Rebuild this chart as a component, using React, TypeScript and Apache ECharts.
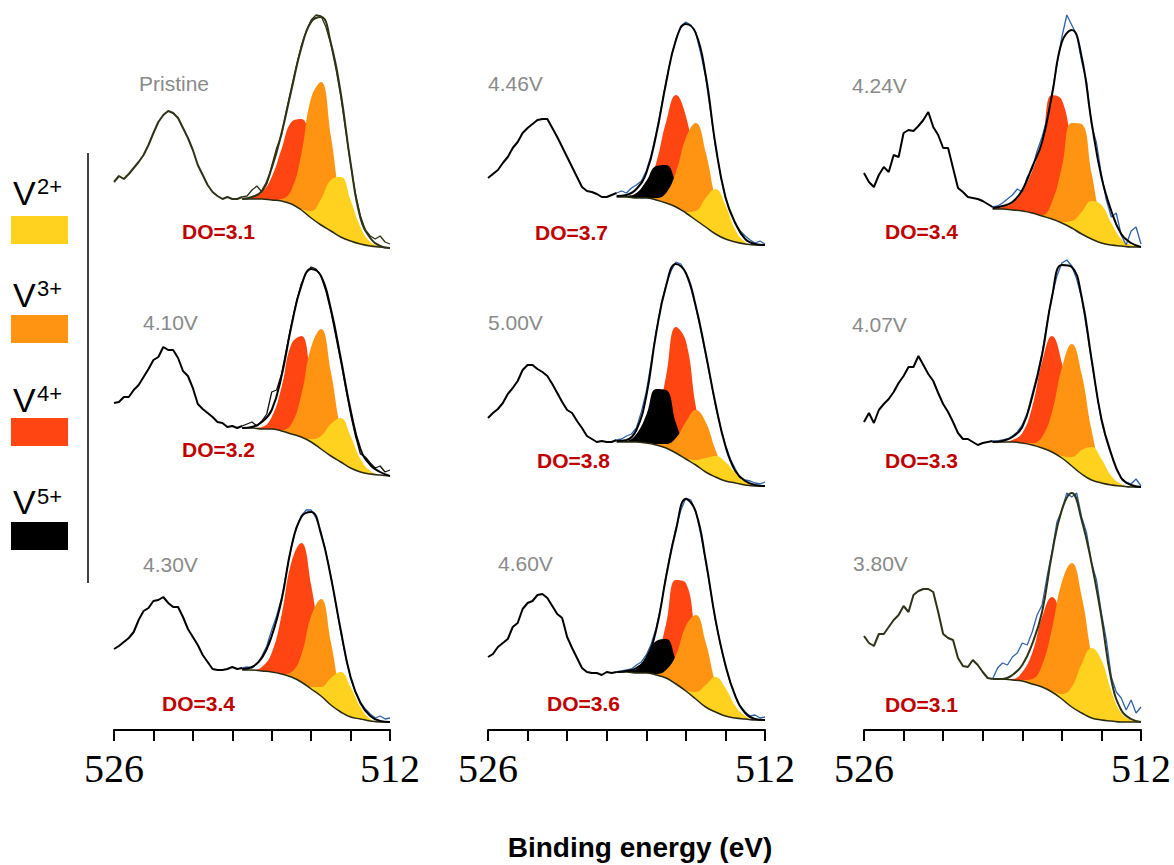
import React, { useEffect, useRef } from "react";
import * as echarts from "echarts";

// ---------- x grids (binding energy, eV) ----------
const RAW_EV = [526, 525.75, 525.5, 525.25, 525, 524.75, 524.5, 524.25, 524, 523.75, 523.5, 523.25, 523, 522.75, 522.5, 522.25, 522, 521.75, 521.5, 521.25, 521, 520.75, 520.5, 520.25, 520, 519.75, 519.5, 519.25, 519, 518.75, 518.5, 518.25, 518, 517.75, 517.5, 517.25, 517, 516.75, 516.5, 516.25, 516, 515.75, 515.5, 515.25, 515, 514.75, 514.5, 514.25, 514, 513.75, 513.5, 513.25, 513, 512.75, 512.5, 512.25, 512];
const FIT_EV = [519.5, 519, 518.5, 518, 517.5, 517, 516.5, 516, 515.5, 515, 514.5, 514, 513.5, 513, 512.5, 512];
const X_TICK_LABELS = [526, 512];

// ---------- raw spectra ----------
const RAW_PRISTINE = [66,72,69,74,80,86,93,103,115,126,133,137,135,130,120,110,98,83,73,63,56,52,49,51,49,49,51, 52,58,62,56,64,82,100,113,138,160,182,202,217,228,233,232,221,204,180,152,118,84,54,32,18,12,9,12,6,4];
const RAW_446 = [67,71,75,82,88,97,103,112,117,121,125,126,126,117,108,98,88,78,68,58,54,53,51,48,48,50,52, 54,52,57,60,64,74,90,112,137,164,187,206,219,223,220,212,192,168,133,98,70,47,32,21,14,9,5,2,4,1];
const RAW_424 = [74,65,60,72,80,75,92,90,114,117,116,121,127,135,120,112,99,99,79,59,55,50,49,48,46,43,40, 41,44,48,52,58,55,70,78,96,110,128,153,182,210,232,222,212,186,165,122,104,72,47,30,34,12,2,16,20,3];
const RAW_410 = [73,74,79,79,86,91,99,107,116,119,129,126,126,118,105,100,88,72,67,63,59,54,53,49,50,48,50, 52,54,50,55,62,84,86,102,127,152,174,192,203,209,207,200,185,165,140,115,88,62,40,22,19,13,8,10,4,6];
const RAW_500 = [68,73,77,83,92,98,105,116,121,121,117,114,110,102,93,84,76,73,65,58,50,47,44,45,44,44,46, 47,50,52,58,74,94,124,155,182,201,215,224,222,213,198,179,156,132,106,80,59,41,27,17,8,6,5,3,2,4];
const RAW_407 = [65,74,64,77,83,88,95,104,111,120,120,131,122,113,106,94,83,75,65,54,48,48,45,42,44,45,46, 46,47,48,51,55,62,74,93,112,134,164,191,211,224,227,221,208,189,158,126,95,66,47,32,19,9,5,3,8,1];
const RAW_430 = [73,76,80,84,90,102,111,114,121,122,125,119,115,115,105,93,85,77,67,60,53,52,52,53,55,53,54, 55,54,58,66,76,92,106,124,150,176,194,206,212,212,204,190,170,146,118,90,65,44,30,20,13,8,4,6,3,4];
const RAW_460 = [63,66,73,77,81,93,97,111,117,119,125,126,122,114,106,102,83,72,62,52,48,47,47,45,48,47,48, 49,50,51,55,58,65,76,92,115,145,170,192,210,222,220,209,186,159,129,99,75,54,37,24,14,8,4,5,2,3];
const RAW_380 = [86,79,76,88,88,95,102,107,116,110,127,131,133,133,130,110,88,84,82,64,56,55,62,57,50,44,43, 54,59,57,65,69,79,77,90,107,117,145,170,200,212,229,225,229,205,189,159,142,109,82,45,30,24,12,22,9,15];

// ---------- backgrounds ----------
const BG_PRISTINE = [49,49,49,48,47,44,38,30,23,17,11,7,4,2,1,0];
const BG_446 = [48,48,47,47,45,42,38,32,25,18,11,6,3,1,0,0];
const BG_424 = [38,38,37,36,34,31,28,24,19,13,8,4,2,1,0,0];
const BG_410 = [48,48,47,47,45,42,39,34,27,20,14,8,4,2,1,0];
const BG_500 = [44,44,44,43,41,38,33,27,21,14,9,5,3,1,0,0];
const BG_407 = [45,45,45,44,42,39,35,29,21,13,7,4,2,1,0,0];
const BG_430 = [52,52,51,50,48,45,40,33,26,17,10,5,3,1,0,0];
const BG_460 = [48,48,47,47,45,42,36,29,21,13,8,4,2,1,0,0];
const BG_380 = [43,43,42,41,38,35,30,23,15,9,4,2,1,0,0,0];

// ---------- fit envelopes ----------
const ENV_PRISTINE = [49,51,57,80,115,158,200,226,231,205,155,85,30,10,2,0];
const ENV_446 = [49,50,56,72,110,162,205,221,212,170,100,48,22,6,1,0];
const ENV_424 = [39,41,45,57,80,105,152,205,217,190,125,70,36,13,4,0];
const ENV_410 = [48,49,54,66,100,150,190,207,200,167,118,66,27,11,4,0];
const ENV_500 = [45,46,56,90,153,200,222,213,180,133,82,40,15,5,1,0];
const ENV_407 = [45,46,50,60,90,132,190,222,220,190,128,68,33,9,2,0];
const ENV_430 = [53,55,64,86,122,175,205,210,188,145,92,45,19,6,1,0];
const ENV_460 = [48,49,52,62,90,143,190,221,208,160,100,55,24,7,1,0];
const ENV_380 = [43,43,47,57,78,110,168,212,229,202,159,105,42,12,3,0];

// ---------- components (height above background) ----------
const V4_PRISTINE = [0,2,7,23,52,82,91,71,39,15,4,1,0,0,0,0];
const V3_PRISTINE = [0,0,0,0,2,14,56,120,143,95,35,7,1,0,0,0];
const V2_PRISTINE = [0,0,0,0,0,0,1,7,26,51,60,41,17,4,1,0];

const V5_446 = [0,1,5,17,34,38,24,8,2,0,0,0,0,0,0,0];
const V4_446 = [0,0,2,10,37,81,112,97,53,18,4,0,0,0,0,0];
const V3_446 = [0,0,0,0,2,10,35,75,97,75,35,10,2,0,0,0];
const V2_446 = [0,0,0,0,0,0,0,1,9,29,45,34,12,2,0,0];

const V4_424 = [0,2,7,20,42,75,124,123,82,38,12,3,0,0,0,0];
const V3_424 = [0,0,0,0,0,1,17,56,105,110,66,22,4,0,0,0];
const V2_424 = [0,0,0,0,0,0,0,1,7,22,38,38,22,7,2,0];

const V4_410 = [0,0,2,12,44,90,101,63,22,4,1,0,0,0,0,0];
const V3_410 = [0,0,0,0,1,10,42,95,120,84,33,7,1,0,0,0];
const V2_410 = [0,0,0,0,0,0,0,3,13,32,44,32,13,3,0,0];

const V5_500 = [0,1,8,28,56,58,30,11,2,0,0,0,0,0,0,0];
const V4_500 = [0,0,0,4,22,72,126,118,59,16,2,0,0,0,0,0];
const V3_500 = [0,0,0,0,1,4,15,37,55,50,27,9,2,0,0,0];
const V2_500 = [0,0,0,0,0,0,0,1,5,14,21,19,10,3,1,0];

const V4_407 = [0,0,2,10,38,86,116,95,47,14,3,0,0,0,0,0];
const V3_407 = [0,0,0,0,2,11,40,90,122,100,50,15,3,0,0,0];
const V2_407 = [0,0,0,0,0,0,0,2,9,24,33,24,9,2,0,0];

const V4_430 = [0,0,4,19,59,115,139,104,49,14,3,0,0,0,0,0];
const V3_430 = [0,0,0,0,0,5,27,73,97,63,20,3,0,0,0,0];
const V2_430 = [0,0,0,0,0,0,0,2,9,27,40,30,12,2,0,0];

const V5_460 = [0,1,4,16,34,39,24,8,1,0,0,0,0,0,0,0];
const V4_460 = [0,0,0,3,16,54,104,108,63,21,4,0,0,0,0,0];
const V3_460 = [0,0,0,0,1,8,29,65,84,65,29,8,1,0,0,0];
const V2_460 = [0,0,0,0,0,0,0,1,7,22,35,28,12,3,0,0];

const V4_380 = [0,0,1,9,31,70,95,78,39,11,2,0,0,0,0,0];
const V3_380 = [0,0,0,1,5,22,63,117,144,117,63,22,5,1,0,0];
const V2_380 = [0,0,0,0,0,0,1,5,20,49,70,60,30,9,2,0];

// ---------- labels ----------
const PANEL_NAMES = ["Pristine", "4.46V", "4.24V", "4.10V", "5.00V", "4.07V", "4.30V", "4.60V", "3.80V"];
const DO_VALUES = ["3.1", "3.7", "3.4", "3.2", "3.8", "3.3", "3.4", "3.6", "3.1"];
const LEGEND_CHARGES = ["2+", "3+", "4+", "5+"];
const AXIS_TITLE = "Binding energy (eV)";

const PANELS = [
  { raw: RAW_PRISTINE, bg: BG_PRISTINE, env: ENV_PRISTINE, v2: V2_PRISTINE, v3: V3_PRISTINE, v4: V4_PRISTINE, v5: null },
  { raw: RAW_446, bg: BG_446, env: ENV_446, v2: V2_446, v3: V3_446, v4: V4_446, v5: V5_446 },
  { raw: RAW_424, bg: BG_424, env: ENV_424, v2: V2_424, v3: V3_424, v4: V4_424, v5: null },
  { raw: RAW_410, bg: BG_410, env: ENV_410, v2: V2_410, v3: V3_410, v4: V4_410, v5: null },
  { raw: RAW_500, bg: BG_500, env: ENV_500, v2: V2_500, v3: V3_500, v4: V4_500, v5: V5_500 },
  { raw: RAW_407, bg: BG_407, env: ENV_407, v2: V2_407, v3: V3_407, v4: V4_407, v5: null },
  { raw: RAW_430, bg: BG_430, env: ENV_430, v2: V2_430, v3: V3_430, v4: V4_430, v5: null },
  { raw: RAW_460, bg: BG_460, env: ENV_460, v2: V2_460, v3: V3_460, v4: V4_460, v5: V5_460 },
  { raw: RAW_380, bg: BG_380, env: ENV_380, v2: V2_380, v3: V3_380, v4: V4_380, v5: null },
];

// ---------- layout & style ----------
const COL_X = [114, 488, 864];
const COL_W = [276, 277, 277];
const PANEL_BASE = [248, 245, 247, 476, 486, 487, 722, 720, 722];
const AXIS_Y = 730;
const LABEL_POS = [[139, 83], [488, 83], [852, 85], [143, 322], [488, 322], [852, 324], [143, 564], [498, 563], [853, 563]];
const DO_POS = [[182, 231], [535, 232], [885, 231], [182, 449], [537, 460], [885, 460], [162, 703], [547, 703], [885, 704]];
const LINE_COLOR = ["#2e3216", "#000", "#000", "#000", "#000", "#000", "#000", "#000", "#2e3216"];
const FIT_RAW_COLOR = ["#2e3216", "#2f62a8", "#2f62a8", "#111", "#2f62a8", "#2f62a8", "#2f62a8", "#2f62a8", "#2f62a8"];
const C_V2 = "#FFD21F";
const C_V3 = "#FF9412";
const C_V4 = "#FF4512";
const C_V5 = "#000000";
const LEGEND_COLORS = [C_V2, C_V3, C_V4, C_V5];
const LEGEND_V_Y = [193, 295, 400, 502];
const LEGEND_SUP_Y = [186, 288, 393, 496];
const LEGEND_BOX_Y = [216, 315, 418, 522];
const SMOOTH = 0.45;
const SANS = '"Liberation Sans", Arial, sans-serif';

function buildOption() {
  const grid: any[] = [];
  const xAxis: any[] = [];
  const yAxis: any[] = [];
  const series: any[] = [];
  const graphic: any[] = [];

  PANELS.forEach((p, i) => {
    const col = i % 3;
    const row = Math.floor(i / 3);
    const yb = PANEL_BASE[i];
    const axisY = row === 2 ? AXIS_Y : yb + 8;
    const top = yb - 240;
    grid.push({ left: COL_X[col], width: COL_W[col], top, height: axisY - top, containLabel: false });
    xAxis.push({
      type: "value", gridIndex: i, min: 512, max: 526, interval: 2, inverse: true,
      show: row === 2,
      axisLine: { show: true, onZero: false, lineStyle: { color: "#000", width: 2 } },
      axisTick: { show: true, inside: false, length: 11, lineStyle: { color: "#000", width: 2 } },
      axisLabel: {
        show: true, margin: 18, showMinLabel: true, showMaxLabel: true,
        formatter: (v: number) => (X_TICK_LABELS.indexOf(v) >= 0 ? String(v) : ""),
        fontFamily: '"Liberation Serif", "Times New Roman", serif', fontSize: 40, color: "#000",
      },
      splitLine: { show: false },
    });
    yAxis.push({ type: "value", gridIndex: i, min: -(axisY - yb), max: 240, show: false, splitLine: { show: false } });

    const fitPts = (arr: number[]) => FIT_EV.map((x, k) => [x, arr[k]]);
    // each fitted component sits on the background: its top edge is bg + component
    const onBg = (arr: number[]) => FIT_EV.map((x, k) => [x, p.bg[k] + arr[k]]);
    const common = { type: "line", xAxisIndex: i, yAxisIndex: i, symbol: "none", smooth: SMOOTH, silent: true };

    const comps: [number[] | null, string, number][] = [
      [p.v4, C_V4, 2],
      [p.v5, C_V5, 3],
      [p.v3, C_V3, 4],
      [p.v2, C_V2, 5],
    ];
    comps.forEach(([arr, color, z]) => {
      if (!arr) return;
      series.push({ ...common, z, data: onBg(arr), lineStyle: { width: 0, opacity: 0 }, areaStyle: { color, opacity: 1, origin: "auto" } });
    });
    // single white mask below the background line, starting a little left of the fit window
    const mask = [[FIT_EV[0] + 0.4, p.bg[0]], ...fitPts(p.bg)];
    series.push({ ...common, z: 6, data: mask, lineStyle: { width: 0, opacity: 0 }, areaStyle: { color: "#ffffff", opacity: 1, origin: "auto" } });

    // raw data: left part and part under the fit
    const leftRaw = RAW_EV.slice(0, 27).map((x, k) => [x, p.raw[k]]);
    const fitRaw = RAW_EV.slice(26).map((x, k) => [x, p.raw[k + 26]]);
    series.push({ ...common, smooth: false, z: 7, data: fitRaw, lineStyle: { color: FIT_RAW_COLOR[i], width: 1.3 } });
    series.push({ ...common, z: 8, data: fitPts(p.bg), lineStyle: { color: "#2a2a10", width: 1.5 } });
    series.push({ ...common, z: 9, data: fitPts(p.env), lineStyle: { color: LINE_COLOR[i], width: 2 } });
    series.push({ ...common, smooth: false, z: 9, data: leftRaw, lineStyle: { color: LINE_COLOR[i], width: 2 } });

    graphic.push({
      type: "text", x: LABEL_POS[i][0], y: LABEL_POS[i][1], silent: true, z: 100,
      style: { text: PANEL_NAMES[i], fill: "#8a8a8a", fontSize: 21, fontFamily: SANS, align: "left", verticalAlign: "middle", textAlign: "left", textVerticalAlign: "middle" },
    });
    graphic.push({
      type: "text", x: DO_POS[i][0], y: DO_POS[i][1], silent: true, z: 100,
      style: { text: "DO=" + DO_VALUES[i], fill: "#c00000", fontSize: 21, fontWeight: "bold", fontFamily: SANS, align: "left", verticalAlign: "middle", textAlign: "left", textVerticalAlign: "middle" },
    });
  });

  // legend
  LEGEND_CHARGES.forEach((ch, k) => {
    graphic.push({
      type: "text", x: 13, y: LEGEND_V_Y[k], silent: true, z: 100,
      style: { text: "V", fill: "#000", fontSize: 34, fontFamily: SANS, align: "left", verticalAlign: "middle", textAlign: "left", textVerticalAlign: "middle" },
    });
    graphic.push({
      type: "text", x: 37, y: LEGEND_SUP_Y[k], silent: true, z: 100,
      style: { text: ch, fill: "#000", fontSize: 22, fontFamily: SANS, align: "left", verticalAlign: "middle", textAlign: "left", textVerticalAlign: "middle" },
    });
    graphic.push({
      type: "rect", silent: true, z: 100,
      shape: { x: 11, y: LEGEND_BOX_Y[k], width: 57, height: 28 },
      style: { fill: LEGEND_COLORS[k] },
    });
  });
  graphic.push({ type: "line", silent: true, z: 100, shape: { x1: 88, y1: 153, x2: 88, y2: 583 }, style: { stroke: "#000", lineWidth: 1.5 } });

  graphic.push({
    type: "text", x: 640, y: 847, silent: true, z: 100,
    style: { text: AXIS_TITLE, fill: "#000", fontSize: 28, fontWeight: "bold", fontFamily: SANS, align: "center", verticalAlign: "middle", textAlign: "center", textVerticalAlign: "middle" },
  });

  return { animation: false, backgroundColor: "#fff", grid, xAxis, yAxis, series, graphic };
}

export default function App() {
  const ref = useRef<HTMLDivElement>(null);
  useEffect(() => {
    const chart = echarts.init(ref.current as HTMLDivElement, undefined, { renderer: "svg" });
    chart.setOption(buildOption() as any);
    return () => chart.dispose();
  }, []);
  return <div ref={ref} style={{ position: "absolute", left: 0, top: 0, width: 1174, height: 865, background: "#fff" }} />;
}
